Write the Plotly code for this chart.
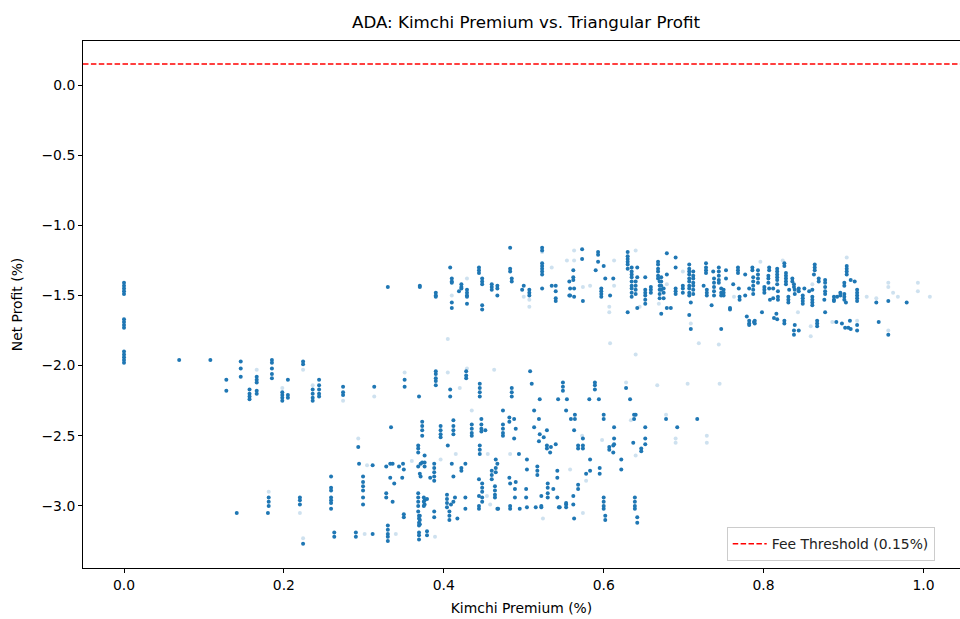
import plotly.graph_objects as go

# ---------------- data ----------------
title_text = "ADA: Kimchi Premium vs. Triangular Profit"
x_label = "Kimchi Premium (%)"
y_label = "Net Profit (%)"
fee_threshold = 0.15
legend_label = "Fee Threshold (0.15%)"
x_ticks = [0.0, 0.2, 0.4, 0.6, 0.8, 1.0]
y_ticks = [0.0, -0.5, -1.0, -1.5, -2.0, -2.5, -3.0]

# columns of observations: (kimchi premium, [net profits])
zero_premium = [
    (0.0, [-1.41, -1.43, -1.45, -1.47, -1.49,
           -1.67, -1.69, -1.71, -1.73,
           -1.90, -1.92, -1.94, -1.96, -1.98]),
]

lower_left_band = [
    (0.069, [-1.96]), (0.108, [-1.96]), (0.128, [-2.10, -2.18]),
    (0.146, [-1.97, -2.02, -2.08]), (0.157, [-2.17, -2.20, -2.22, -2.24]),
    (0.166, [-2.08, -2.10, -2.12, -2.18, -2.20]),
    (0.185, [-1.96, -1.98, -2.02, -2.06, -2.09]),
    (0.198, [-2.19, -2.21, -2.23, -2.25]), (0.205, [-2.10, -2.21, -2.23]),
    (0.224, [-1.97, -1.99]), (0.236, [-2.17, -2.20, -2.23, -2.25]),
    (0.244, [-2.10, -2.14, -2.17, -2.20, -2.22]),
    (0.274, [-2.15, -2.19, -2.21]), (0.313, [-2.15]),
    (0.351, [-2.10, -2.15]), (0.369, [-2.22]),
]

lower_band = [
    (0.334, [-2.44]), (0.373, [-2.40, -2.43, -2.46, -2.50]),
    (0.368, [-2.57, -2.59, -2.62]), (0.293, [-2.58]), (0.294, [-2.70]),
    (0.311, [-2.71]), (0.328, [-2.72]), (0.333, [-2.70]), (0.336, [-2.70]),
    (0.344, [-2.72]), (0.349, [-2.70]), (0.350, [-2.74]), (0.368, [-2.72]),
    (0.371, [-2.70]), (0.373, [-2.69]),
    (0.259, [-2.79, -2.87, -2.89, -2.94, -2.96, -2.98, -3.02]),
    (0.299, [-2.79, -2.83, -2.86, -2.89, -2.94, -2.99]),
    (0.328, [-2.91, -2.94]), (0.336, [-2.97]), (0.333, [-2.80]),
    (0.338, [-2.84]), (0.348, [-2.80]), (0.371, [-2.79]),
    (0.368, [-2.91, -2.94, -2.97, -3.00, -3.04]), (0.376, [-2.96, -2.99]),
    (0.379, [-2.95]), (0.350, [-3.06, -3.08]),
    (0.181, [-2.94, -2.97, -3.00]), (0.180, [-3.05]), (0.141, [-3.05]),
    (0.220, [-2.94, -2.96, -2.99]), (0.263, [-3.19, -3.22]), (0.224, [-3.27]),
    (0.290, [-3.19, -3.22]), (0.311, [-3.20]),
    (0.330, [-3.14, -3.17, -3.20, -3.22, -3.25]),
    (0.369, [-3.07, -3.09, -3.12, -3.14, -3.19, -3.21, -3.24]),
    (0.379, [-3.18, -3.21]),
    (0.390, [-2.04, -2.06, -2.09, -2.11, -2.14]), (0.408, [-2.17, -2.22]),
    (0.428, [-2.04, -2.07, -2.09]), (0.445, [-2.13, -2.16, -2.19, -2.22]),
    (0.485, [-2.16, -2.19, -2.22]), (0.508, [-2.04]), (0.510, [-2.13]),
    (0.520, [-2.24]), (0.543, [-2.24]), (0.554, [-2.24]),
    (0.549, [-2.12, -2.15, -2.18]), (0.553, [-2.32]), (0.474, [-2.32]),
    (0.513, [-2.32]), (0.482, [-2.37, -2.40]), (0.488, [-2.38]),
    (0.447, [-2.38, -2.42, -2.45, -2.47]), (0.452, [-2.46]),
    (0.435, [-2.42, -2.45, -2.48, -2.50]), (0.412, [-2.39, -2.43, -2.46, -2.49]),
    (0.396, [-2.43, -2.46, -2.49, -2.51]), (0.474, [-2.42, -2.45, -2.48, -2.50]),
    (0.490, [-2.45]), (0.488, [-2.52]), (0.513, [-2.44]), (0.519, [-2.38]),
    (0.529, [-2.46]), (0.520, [-2.49]), (0.525, [-2.51]), (0.519, [-2.54]),
    (0.529, [-2.57, -2.59]), (0.534, [-2.58]), (0.540, [-2.56]), (0.533, [-2.62]),
    (0.405, [-2.57]), (0.445, [-2.57, -2.60, -2.63]), (0.494, [-2.63]),
    (0.504, [-2.67]), (0.376, [-2.64, -2.69, -2.72]),
    (0.388, [-2.70, -2.73, -2.76, -2.79, -2.82]), (0.410, [-2.70]),
    (0.412, [-2.79]), (0.427, [-2.70]), (0.422, [-2.73, -2.75]),
    (0.465, [-2.67, -2.73, -2.76]), (0.467, [-2.70]), (0.460, [-2.75, -2.78, -2.81]),
    (0.504, [-2.74]), (0.517, [-2.72, -2.75, -2.78]), (0.542, [-2.75, -2.80]),
    (0.537, [-2.88]), (0.530, [-2.84, -2.87, -2.91, -2.94]), (0.383, [-2.80]),
    (0.370, [-2.77]), (0.444, [-2.81, -2.93, -3.00, -3.02]), (0.448, [-2.84]),
    (0.448, [-2.87, -2.90, -2.94, -2.97]), (0.464, [-2.86, -2.89, -2.92, -2.94]),
    (0.468, [-3.02]), (0.482, [-2.80]), (0.483, [-2.84]), (0.490, [-2.83]),
    (0.489, [-2.88, -2.94]), (0.503, [-2.88, -2.94]), (0.522, [-2.93, -3.01]),
    (0.542, [-2.94]), (0.553, [-2.99]), (0.544, [-3.01]), (0.427, [-2.94, -3.02]),
    (0.404, [-2.92, -2.95, -2.98, -3.01]), (0.409, [-2.99]), (0.412, [-2.97]),
    (0.414, [-2.94]), (0.375, [-2.94, -2.97, -3.00]), (0.388, [-3.04, -3.08]),
    (0.407, [-3.04, -3.07, -3.10]), (0.417, [-3.09]), (0.467, [-3.02]),
    (0.483, [-3.00, -3.02]), (0.495, [-3.02]), (0.504, [-3.01]), (0.515, [-3.01]),
    (0.522, [-3.00]), (0.370, [-3.07, -3.10, -3.13]),
    (0.589, [-2.12, -2.14, -2.17]), (0.628, [-2.16]), (0.582, [-2.24]),
    (0.594, [-2.24]), (0.633, [-2.24]), (0.564, [-2.35, -2.38]), (0.559, [-2.38]),
    (0.600, [-2.35, -2.38]), (0.638, [-2.35, -2.38]), (0.640, [-2.35]),
    (0.678, [-2.38]), (0.717, [-2.38]), (0.692, [-2.44]), (0.652, [-2.44]),
    (0.613, [-2.44, -2.52, -2.56]), (0.563, [-2.46]), (0.574, [-2.52, -2.57, -2.59]),
    (0.568, [-2.57, -2.59]), (0.607, [-2.58, -2.60]), (0.612, [-2.57, -2.62]),
    (0.637, [-2.55]), (0.652, [-2.52, -2.56]), (0.647, [-2.59, -2.61]),
    (0.583, [-2.67, -2.75]), (0.622, [-2.67, -2.74]), (0.595, [-2.73, -2.77]),
    (0.578, [-2.77]), (0.568, [-2.85, -2.88]), (0.562, [-2.93, -2.99]),
    (0.553, [-2.98, -3.01]), (0.545, [-3.01]), (0.600, [-2.94, -2.97, -3.00, -3.02]),
    (0.639, [-2.94, -2.97, -3.00, -3.02]), (0.563, [-3.09]), (0.602, [-3.07, -3.10]),
    (0.642, [-3.08, -3.12]),
]

upper_band = [
    (0.330, [-1.44]), (0.370, [-1.43, -1.44]), (0.390, [-1.48, -1.50, -1.51]),
    (0.408, [-1.30]), (0.410, [-1.38, -1.40, -1.41, -1.55, -1.59]),
    (0.419, [-1.47]), (0.422, [-1.42, -1.44, -1.45]),
    (0.429, [-1.46, -1.48, -1.50, -1.51, -1.56]), (0.444, [-1.30, -1.32, -1.34]),
    (0.448, [-1.38, -1.40, -1.42, -1.57, -1.60]), (0.460, [-1.42, -1.44, -1.46]),
    (0.467, [-1.43, -1.45, -1.50]), (0.483, [-1.16, -1.31, -1.33]),
    (0.485, [-1.38, -1.40]), (0.500, [-1.43]), (0.498, [-1.46]),
    (0.507, [-1.46, -1.48, -1.50]), (0.523, [-1.16, -1.18]),
    (0.523, [-1.27, -1.29, -1.31, -1.33, -1.35, -1.45]), (0.535, [-1.43]),
    (0.540, [-1.43, -1.47, -1.52, -1.54]), (0.557, [-1.40, -1.50]),
    (0.562, [-1.32, -1.37, -1.39]), (0.558, [-1.45, -1.50]), (0.563, [-1.45, -1.51]),
    (0.574, [-1.54]), (0.573, [-1.17, -1.24]), (0.593, [-1.19, -1.21, -1.26]),
    (0.590, [-1.32]), (0.600, [-1.29]), (0.597, [-1.45, -1.47, -1.49, -1.51]),
    (0.608, [-1.50]), (0.612, [-1.38]), (0.602, [-1.38]),
    (0.630, [-1.19, -1.22, -1.24, -1.26, -1.28, -1.31, -1.62]),
    (0.635, [-1.30, -1.33, -1.35, -1.37, -1.40, -1.43, -1.45, -1.48, -1.51]),
    (0.640, [-1.40, -1.43, -1.46, -1.49]), (0.642, [-1.30, -1.37, -1.59]),
    (0.652, [-1.37, -1.46, -1.48, -1.50, -1.53, -1.56]), (0.659, [-1.44, -1.46, -1.48]),
    (0.668, [-1.26, -1.28, -1.31, -1.33, -1.36, -1.38]),
    (0.672, [-1.37, -1.40, -1.43, -1.46, -1.63]),
    (0.670, [-1.40, -1.43, -1.46, -1.49, -1.52]), (0.675, [-1.45, -1.48, -1.52]),
    (0.679, [-1.20, -1.35, -1.59]), (0.690, [-1.23, -1.30]), (0.684, [-1.59]),
    (0.690, [-1.45, -1.47, -1.49]), (0.699, [-1.43, -1.45, -1.48]),
    (0.707, [-1.28, -1.31, -1.33, -1.35, -1.38, -1.40, -1.43, -1.45, -1.48, -1.50, -1.64]),
    (0.712, [-1.33, -1.36, -1.38, -1.41, -1.43, -1.46, -1.49]),
    (0.709, [-1.55, -1.74]), (0.728, [-1.27, -1.30, -1.32, -1.34]),
    (0.725, [-1.43]), (0.729, [-1.46, -1.48, -1.50]), (0.735, [-1.57]),
    (0.737, [-1.33]), (0.738, [-1.38, -1.41, -1.44, -1.47, -1.50]),
    (0.744, [-1.30, -1.33, -1.36, -1.39, -1.41]), (0.747, [-1.45, -1.48, -1.50, -1.74]),
    (0.753, [-1.32, -1.38]), (0.750, [-1.46, -1.48, -1.50]), (0.762, [-1.42]),
    (0.758, [-1.59, -1.60]), (0.768, [-1.30, -1.32, -1.34]), (0.769, [-1.45]),
    (0.770, [-1.51, -1.53]), (0.777, [-1.35, -1.50]), (0.779, [-1.65]),
    (0.782, [-1.45, -1.68, -1.70, -1.71]), (0.788, [-1.69]), (0.786, [-1.30, -1.32]),
    (0.787, [-1.37, -1.40, -1.43, -1.46, -1.49]), (0.793, [-1.32, -1.35, -1.38, -1.41]),
    (0.789, [-1.68, -1.70]), (0.798, [-1.62]), (0.807, [-1.30, -1.32, -1.45]),
    (0.806, [-1.36, -1.38, -1.41]), (0.801, [-1.44, -1.46, -1.48]),
    (0.812, [-1.45, -1.52]), (0.808, [-1.53]),
    (0.817, [-1.31, -1.33, -1.35, -1.37, -1.39, -1.42, -1.67]),
    (0.818, [-1.47, -1.51, -1.53]), (0.816, [-1.63]), (0.813, [-1.66]),
    (0.826, [-1.27, -1.29, -1.68, -1.70]), (0.828, [-1.34, -1.36, -1.38, -1.40, -1.42]),
    (0.831, [-1.51, -1.53, -1.55]), (0.832, [-1.46]), (0.836, [-1.38, -1.40]),
    (0.838, [-1.42, -1.44, -1.75, -1.78]), (0.839, [-1.46, -1.49, -1.71]),
    (0.844, [-1.45, -1.47, -1.75]), (0.851, [-1.45]), (0.849, [-1.50, -1.52, -1.54, -1.56]),
    (0.857, [-1.47]), (0.861, [-1.46, -1.51, -1.53, -1.55, -1.57]),
    (0.864, [-1.28, -1.30, -1.32]), (0.863, [-1.35]), (0.869, [-1.38, -1.40]),
    (0.867, [-1.68, -1.70, -1.72]), (0.877, [-1.39, -1.41, -1.44, -1.47, -1.49, -1.62]),
    (0.876, [-1.53]), (0.888, [-1.51, -1.53, -1.54]), (0.892, [-1.51]),
    (0.896, [-1.48, -1.50]), (0.901, [-1.41, -1.43, -1.49, -1.51, -1.53]),
    (0.904, [-1.29, -1.31, -1.33, -1.35]), (0.903, [-1.55]), (0.909, [-1.39]),
    (0.914, [-1.40]), (0.917, [-1.46, -1.48, -1.50, -1.52, -1.54]),
    (0.891, [-1.69]), (0.898, [-1.70]), (0.902, [-1.73]), (0.906, [-1.73]),
    (0.908, [-1.68]), (0.909, [-1.74]), (0.917, [-1.71, -1.75]),
    (0.941, [-1.55]), (0.956, [-1.54]), (0.979, [-1.55]), (0.944, [-1.69]),
    (0.956, [-1.78]),
]

# isolated (single, lightly shaded) observations
faint_x = [0.166, 0.224, 0.236, 0.274, 0.313, 0.351, 0.198, 0.293, 0.304, 0.360,
           0.340, 0.224, 0.181, 0.220, 0.301, 0.389, 0.396, 0.415, 0.455, 0.483,
           0.458, 0.454, 0.524, 0.429, 0.463, 0.435, 0.667, 0.705, 0.745, 0.628,
           0.573, 0.598, 0.690, 0.729, 0.690, 0.729, 0.558, 0.578, 0.634, 0.678,
           0.574, 0.640, 0.405, 0.420,
           0.405, 0.429, 0.410, 0.507, 0.507, 0.523, 0.535, 0.554, 0.500, 0.563,
           0.574, 0.583, 0.563, 0.613, 0.613, 0.607, 0.607, 0.608, 0.640, 0.645,
           0.640, 0.669, 0.679, 0.699, 0.709, 0.744, 0.763, 0.796, 0.824, 0.843,
           0.859, 0.859, 0.861, 0.886, 0.904, 0.917, 0.929, 0.941, 0.956, 0.956,
           0.962, 0.968, 0.993, 0.993, 1.008, 0.956, 0.719]
faint_y = [-2.03, -2.03, -2.14, -2.25, -2.22, -2.05, -2.16, -2.52, -2.71, -2.68,
           -3.20, -3.23, -2.90, -3.05, -3.20, -3.22, -2.67, -2.63, -2.63, -2.63,
           -2.99, -2.93, -3.09, -2.02, -2.03, -2.32, -2.14, -2.13, -2.13, -2.12,
           -2.50, -2.53, -2.52, -2.50, -2.55, -2.55, -2.74, -2.82, -2.39, -2.35,
           -3.05, -2.64, -2.05, -2.16,
           -1.81, -1.38, -1.50, -1.53, -1.58, -1.19, -1.30, -1.25, -1.51, -1.25,
           -1.44, -1.43, -1.18, -1.25, -1.43, -1.58, -1.62, -1.84, -1.18, -1.58,
           -1.92, -1.56, -1.42, -1.33, -1.70, -1.85, -1.51, -1.26, -1.25, -1.62,
           -1.72, -1.79, -1.42, -1.69, -1.23, -1.68, -1.51, -1.52, -1.41, -1.44,
           -1.48, -1.51, -1.41, -1.47, -1.51, -1.75, -1.84]

# ---------------- build figure ----------------
def flatten(columns):
    xs, ys = [], []
    for xv, yvals in columns:
        for yv in yvals:
            xs.append(xv)
            ys.append(yv)
    return xs, ys

dense_x, dense_y = [], []
for group in (zero_premium, lower_left_band, lower_band, upper_band):
    gx, gy = flatten(group)
    dense_x += gx
    dense_y += gy

blue = "#1f77b4"
FONT = "DejaVu Sans"
X_RANGE = [-0.0513, 1.0457]
Y_RANGE = [-3.4426, 0.3136]

fig = go.Figure()
fig.add_trace(go.Scatter(
    x=faint_x, y=faint_y, mode="markers", showlegend=False,
    marker=dict(color=blue, size=4, opacity=0.22, line=dict(width=0)),
    hoverinfo="skip"))
fig.add_trace(go.Scatter(
    x=dense_x, y=dense_y, mode="markers", showlegend=False,
    marker=dict(color=blue, size=4, opacity=1.0, line=dict(width=0)),
    hoverinfo="skip"))
fig.add_trace(go.Scatter(
    x=X_RANGE, y=[fee_threshold, fee_threshold], mode="lines",
    name=legend_label, line=dict(color="red", width=1.5, dash="5.5px,2.4px"),
    hoverinfo="skip"))

fig.update_layout(
    width=960, height=619,
    paper_bgcolor="white", plot_bgcolor="white",
    margin=dict(l=83, r=0, t=41, b=51, autoexpand=False),
    font=dict(family=FONT, size=13.9, color="black"),
    title=dict(text=title_text, x=526 / 960, xanchor="center", y=1 - 22 / 619,
               yanchor="middle", yref="container",
               font=dict(family=FONT, size=16.7, color="black")),
    showlegend=True,
    legend=dict(x=0.734, y=0.013, xanchor="left", yanchor="bottom",
                bgcolor="rgba(255,255,255,0.8)", bordercolor="#cccccc",
                borderwidth=1, font=dict(family=FONT, size=13.9, color="#222222"),
                itemwidth=34),
)
fig.update_xaxes(
    range=X_RANGE, tickvals=x_ticks, tickformat=".1f", automargin=False,
    showline=True, linecolor="black", linewidth=1, mirror=True,
    ticks="outside", ticklen=4, tickcolor="black", showgrid=False, zeroline=False,
    title=dict(text=x_label, standoff=11, font=dict(family=FONT, size=13.9)),
    tickfont=dict(family=FONT, size=13.9))
fig.update_yaxes(
    range=Y_RANGE, tickvals=y_ticks, tickformat=".1f", automargin=False,
    showline=True, linecolor="black", linewidth=1, mirror=False,
    ticks="outside", ticklen=4, tickcolor="black", showgrid=False, zeroline=False,
    title=dict(text=y_label, standoff=15, font=dict(family=FONT, size=13.9)),
    tickfont=dict(family=FONT, size=13.9))

fig.write_html(
    "out.html",
    config={"displayModeBar": False},
    post_script="document.body.style.margin='0';document.body.style.overflow='hidden';")
